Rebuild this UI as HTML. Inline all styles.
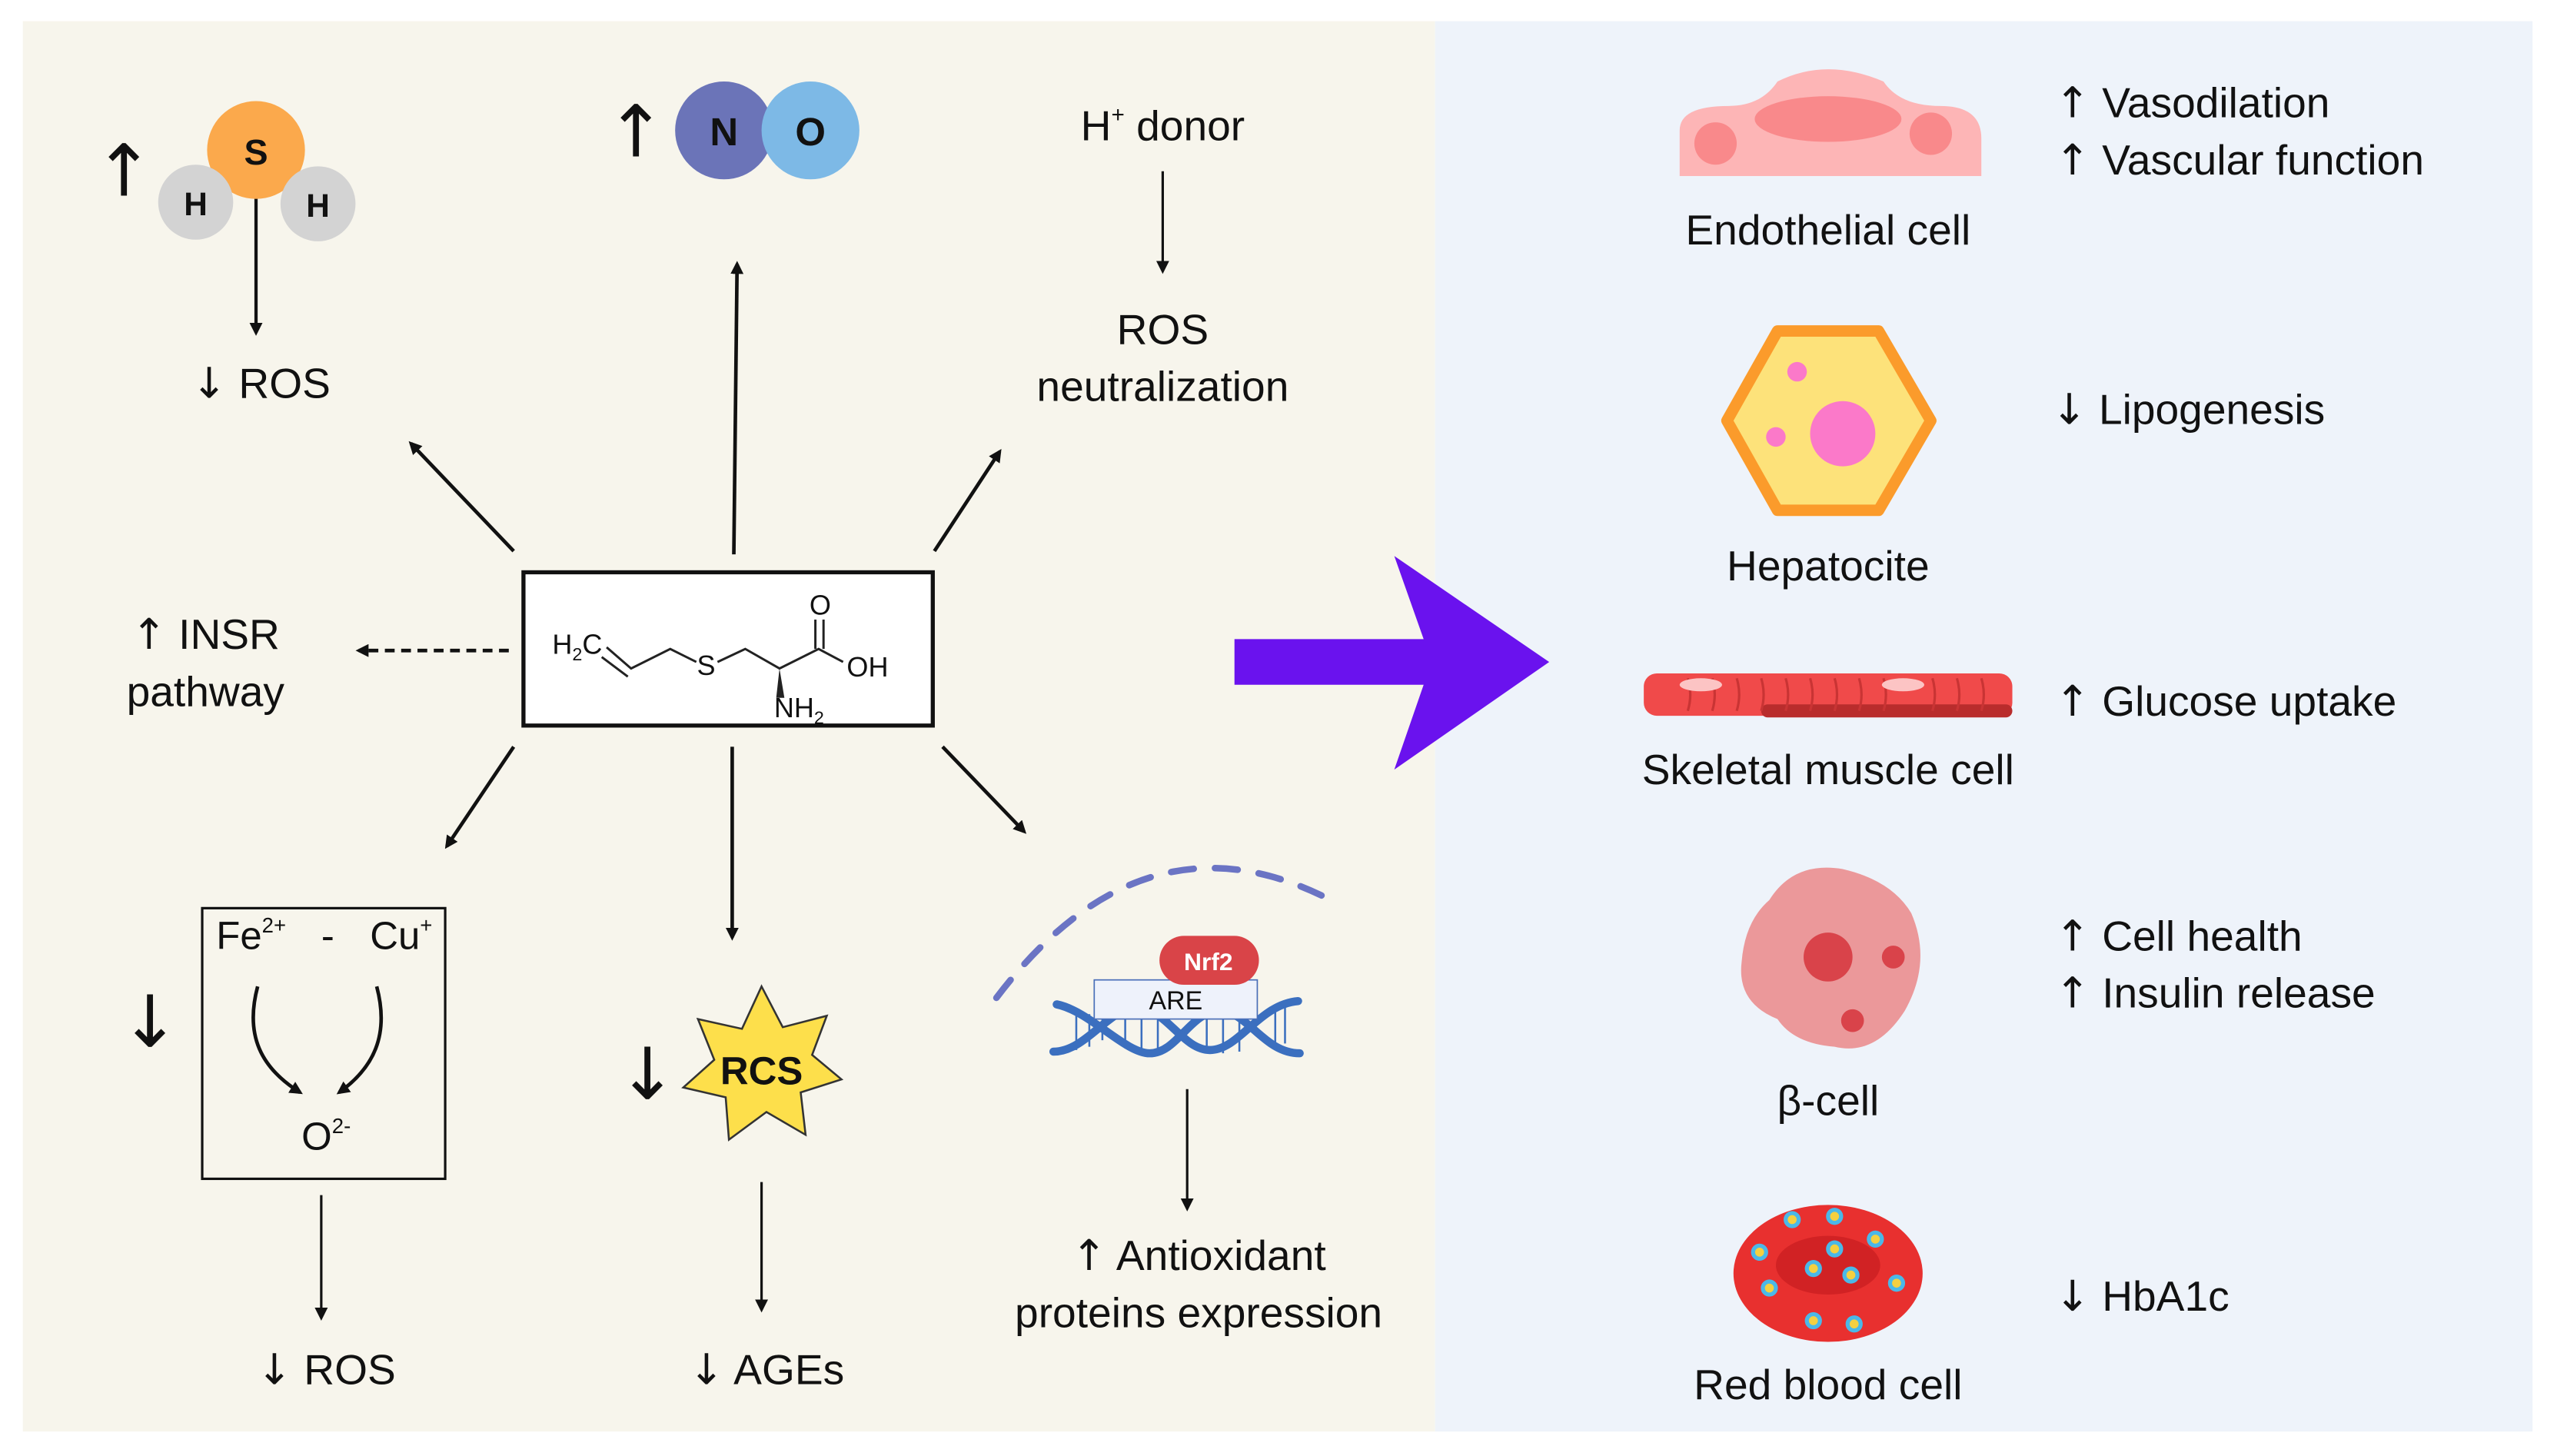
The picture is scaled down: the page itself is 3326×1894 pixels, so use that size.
<!DOCTYPE html>
<html><head><meta charset="utf-8"><style>
html,body{margin:0;padding:0;background:#fff;}
svg{display:block;}
text{font-family:"Liberation Sans",sans-serif;fill:#111;}
.a{font-family:"DejaVu Sans",sans-serif;}
</style></head><body>
<svg width="3326" height="1894" viewBox="0 0 1568 893" preserveAspectRatio="none" xmlns="http://www.w3.org/2000/svg">
<defs>
<marker id="ah" markerWidth="8" markerHeight="8" refX="6" refY="4" orient="auto" markerUnits="userSpaceOnUse">
<path d="M0,0 L8,4 L0,8 Z" fill="#111"/></marker>
</defs>
<rect x="0" y="0" width="1568" height="893" fill="#fff"/>
<rect x="14" y="13" width="866" height="865" fill="#f7f5ec"/>
<rect x="880" y="13" width="673" height="865" fill="#eef3fa"/>

<g font-size="26" text-anchor="middle">
<!-- H2S -->
<text x="76" y="120" font-size="44" class="a">↑</text>
<line x1="157" y1="120" x2="157" y2="204" stroke="#111" stroke-width="2" marker-end="url(#ah)"/>
<circle cx="157" cy="92" r="30" fill="#fba94c"/>
<circle cx="120" cy="124" r="23" fill="#d3d3d3"/>
<circle cx="195" cy="125" r="23" fill="#d3d3d3"/>
<text x="157" y="101" font-size="22" font-weight="bold">S</text>
<text x="120" y="132" font-size="20" font-weight="bold">H</text>
<text x="195" y="133" font-size="20" font-weight="bold">H</text>
<text x="160" y="244"><tspan class="a">↓</tspan> ROS</text>

<!-- NO -->
<text x="390" y="96" font-size="44" class="a">↑</text>
<circle cx="444" cy="80" r="30" fill="#6b74b8"/>
<circle cx="497" cy="80" r="30" fill="#7db9e6"/>
<text x="444" y="89" font-size="24" font-weight="bold">N</text>
<text x="497" y="89" font-size="24" font-weight="bold">O</text>

<!-- H+ donor -->
<text x="713" y="86">H<tspan font-size="14" dy="-11">+</tspan><tspan dy="11"> donor</tspan></text>
<line x1="713" y1="105" x2="713" y2="166" stroke="#111" stroke-width="1.5" marker-end="url(#ah)"/>
<text x="713" y="211">ROS</text>
<text x="713" y="246">neutralization</text>

<!-- center box -->
<rect x="321" y="351" width="251" height="94" fill="#fff" stroke="#111" stroke-width="2.5"/>
<g stroke="#222" stroke-width="1.4" fill="none">
<polyline points="372,397 387,410 411,398 427,406"/>
<line x1="369" y1="403" x2="385" y2="415"/>
<polyline points="440,406 457,398 478,410 502,398 517,406"/>
<line x1="500" y1="398" x2="500" y2="380"/>
<line x1="505" y1="398" x2="505" y2="380"/>
</g>
<path d="M478,410 L476,428 L481,428 Z" fill="#222"/>
<g font-size="17" fill="#222">
<text x="354" y="401">H<tspan font-size="11" dy="4">2</tspan><tspan dy="-4">C</tspan></text>
<text x="433" y="414">S</text>
<text x="503" y="377">O</text>
<text x="532" y="415">OH</text>
<text x="490" y="440">NH<tspan font-size="11" dy="4">2</tspan></text>
</g>

<!-- connectors from center -->
<g stroke="#111" stroke-width="2.2">
<line x1="450" y1="340" x2="452" y2="162" marker-end="url(#ah)"/>
<line x1="315" y1="338" x2="252" y2="272" marker-end="url(#ah)"/>
<line x1="573" y1="338" x2="613" y2="277" marker-end="url(#ah)"/>
<line x1="312" y1="399" x2="220" y2="399" stroke-dasharray="6,4" marker-end="url(#ah)"/>
<line x1="315" y1="458" x2="274" y2="519" marker-end="url(#ah)"/>
<line x1="449" y1="458" x2="449" y2="575" marker-end="url(#ah)"/>
<line x1="578" y1="458" x2="628" y2="510" marker-end="url(#ah)"/>
</g>

<text x="126" y="398"><tspan class="a">↑</tspan> INSR</text>
<text x="126" y="433">pathway</text>

<!-- Fe box -->
<text x="92" y="642" font-size="44" class="a">↓</text>
<rect x="124" y="557" width="149" height="166" fill="none" stroke="#111" stroke-width="1.5"/>
<text x="154" y="582" font-size="24">Fe<tspan font-size="13" dy="-10">2+</tspan></text>
<text x="201" y="582" font-size="24">-</text>
<text x="246" y="582" font-size="24">Cu<tspan font-size="13" dy="-10">+</tspan></text>
<g stroke="#111" stroke-width="2.2" fill="none">
<path d="M158,605 C150,635 160,655 184,670" marker-end="url(#ah)"/>
<path d="M231,605 C239,635 229,655 208,670" marker-end="url(#ah)"/>
</g>
<text x="200" y="705" font-size="24">O<tspan font-size="13" dy="-10">2-</tspan></text>
<line x1="197" y1="733" x2="197" y2="808" stroke="#111" stroke-width="1.5" marker-end="url(#ah)"/>
<text x="200" y="849"><tspan class="a">↓</tspan> ROS</text>

<!-- RCS -->
<text x="397" y="674" font-size="44" class="a">↓</text>
<polygon points="467,605 480,630 507,623 498,647 516,662 491,670 494,696 470,682 447,699 445,673 419,667 438,650 428,625 455,631" fill="#fddf4b" stroke="#333" stroke-width="1.2"/>
<text x="467" y="665" font-size="24" font-weight="bold">RCS</text>
<line x1="467" y1="725" x2="467" y2="803" stroke="#111" stroke-width="1.5" marker-end="url(#ah)"/>
<text x="470" y="849"><tspan class="a">↓</tspan> AGEs</text>

<!-- DNA -->
<path d="M611,612 Q700,495 812,550" fill="none" stroke="#6b74c4" stroke-width="4" stroke-dasharray="14,13" stroke-linecap="round"/>
<g stroke="#3b6fbf" fill="none">
<g stroke-width="1.2">
<line x1="660" y1="620" x2="660" y2="644"/><line x1="668" y1="622" x2="668" y2="642"/>
<line x1="676" y1="624" x2="676" y2="638"/><line x1="690" y1="622" x2="690" y2="643"/>
<line x1="700" y1="622" x2="700" y2="645"/><line x1="710" y1="622" x2="710" y2="646"/>
<line x1="740" y1="624" x2="740" y2="645"/><line x1="750" y1="622" x2="750" y2="646"/>
<line x1="760" y1="622" x2="760" y2="645"/><line x1="782" y1="618" x2="782" y2="642"/>
<line x1="788" y1="618" x2="788" y2="640"/>
</g>
<path d="M648,616 C668,620 690,646 705,646 C722,646 730,620 748,620 C765,620 775,646 797,646" stroke-width="5" stroke-linecap="round"/>
<path d="M646,645 C666,645 680,618 697,618 C715,618 725,644 742,644 C760,644 772,616 796,614" stroke-width="5" stroke-linecap="round"/>
</g>
<rect x="671" y="601" width="100" height="24" fill="#eef2fb" stroke="#4a6fb8" stroke-width="0.8"/>
<text x="721" y="619" font-size="16">ARE</text>
<rect x="711" y="574" width="61" height="30" rx="15" fill="#d94448"/>
<text x="741" y="595" font-size="15" font-weight="bold" style="fill:#fff">Nrf2</text>
<line x1="728" y1="668" x2="728" y2="741" stroke="#111" stroke-width="1.5" marker-end="url(#ah)"/>
<text x="735" y="779"><tspan class="a">↑</tspan> Antioxidant</text>
<text x="735" y="814">proteins expression</text>

<!-- big arrow -->
<polygon points="757,392 873,392 855,341 950,406 855,472 873,420 757,420" fill="#6a12ee"/>

<!-- endothelial -->
<path d="M1030,108 L1030,80 Q1030,65 1060,65 Q1080,65 1090,50 Q1120,35 1155,50 Q1165,65 1190,65 Q1215,65 1215,85 L1215,108 Z" fill="#fdb5b6"/>
<ellipse cx="1121" cy="73" rx="45" ry="14" fill="#f9898b"/>
<circle cx="1052" cy="88" r="13" fill="#f9898b"/>
<circle cx="1184" cy="82" r="13" fill="#f9898b"/>
<text x="1121" y="150">Endothelial cell</text>

<!-- hepatocyte -->
<polygon points="1090,203 1152,203 1184,258 1152,313 1090,313 1059,258" fill="#fde27a" stroke="#fb9b2b" stroke-width="7" stroke-linejoin="round"/>
<circle cx="1130" cy="266" r="20" fill="#fb79c9"/>
<circle cx="1102" cy="228" r="6" fill="#fb79c9"/>
<circle cx="1089" cy="268" r="6" fill="#fb79c9"/>
<text x="1121" y="356">Hepatocite</text>

<!-- muscle -->
<rect x="1008" y="413" width="226" height="26" rx="8" fill="#f04a4a"/>
<rect x="1080" y="432" width="154" height="8" rx="4" fill="#b92c2c"/>
<g stroke="#c93434" stroke-width="1.5" fill="none">
<path d="M1035,416 q3,10 0,20 M1050,416 q3,10 0,20 M1065,416 q3,10 0,20 M1080,416 q3,10 0,20 M1095,416 q3,10 0,20 M1110,416 q3,10 0,20 M1125,416 q3,10 0,20 M1140,416 q3,10 0,20 M1155,416 q3,10 0,20 M1185,416 q3,10 0,20 M1200,416 q3,10 0,20 M1215,416 q3,10 0,20"/>
</g>
<ellipse cx="1043" cy="420" rx="13" ry="4" fill="#fcc4c4"/>
<ellipse cx="1167" cy="420" rx="13" ry="4" fill="#fcc4c4"/>
<text x="1121" y="481">Skeletal muscle cell</text>

<!-- beta cell -->
<path d="M1085,552 Q1100,528 1130,533 Q1160,540 1172,560 Q1185,590 1168,620 Q1150,648 1125,642 Q1100,640 1090,625 Q1065,615 1068,590 Q1070,565 1085,552 Z" fill="#eb989a"/>
<circle cx="1121" cy="587" r="15" fill="#d9434a"/>
<circle cx="1161" cy="587" r="7" fill="#d9434a"/>
<circle cx="1136" cy="626" r="7" fill="#d9434a"/>
<text x="1121" y="684">β-cell</text>

<!-- RBC -->
<ellipse cx="1121" cy="781" rx="58" ry="42" fill="#e8302f"/>
<ellipse cx="1121" cy="776" rx="32" ry="18" fill="#d12224"/>
<g fill="#f5d040" stroke="#4bb8e8" stroke-width="2.5">
<circle cx="1099" cy="748" r="4"/><circle cx="1125" cy="746" r="4"/><circle cx="1150" cy="760" r="4"/>
<circle cx="1079" cy="768" r="4"/><circle cx="1112" cy="778" r="4"/><circle cx="1135" cy="782" r="4"/>
<circle cx="1163" cy="787" r="4"/><circle cx="1085" cy="790" r="4"/><circle cx="1112" cy="810" r="4"/>
<circle cx="1137" cy="812" r="4"/><circle cx="1125" cy="766" r="4"/>
</g>
<text x="1121" y="858">Red blood cell</text>
</g>

<g font-size="26" text-anchor="start">
<text x="1260" y="72"><tspan class="a">↑</tspan> Vasodilation</text>
<text x="1260" y="107"><tspan class="a">↑</tspan> Vascular function</text>
<text x="1258" y="260"><tspan class="a">↓</tspan> Lipogenesis</text>
<text x="1260" y="439"><tspan class="a">↑</tspan> Glucose uptake</text>
<text x="1260" y="583"><tspan class="a">↑</tspan> Cell health</text>
<text x="1260" y="618"><tspan class="a">↑</tspan> Insulin release</text>
<text x="1260" y="804"><tspan class="a">↓</tspan> HbA1c</text>
</g>
</svg>
</body></html>
